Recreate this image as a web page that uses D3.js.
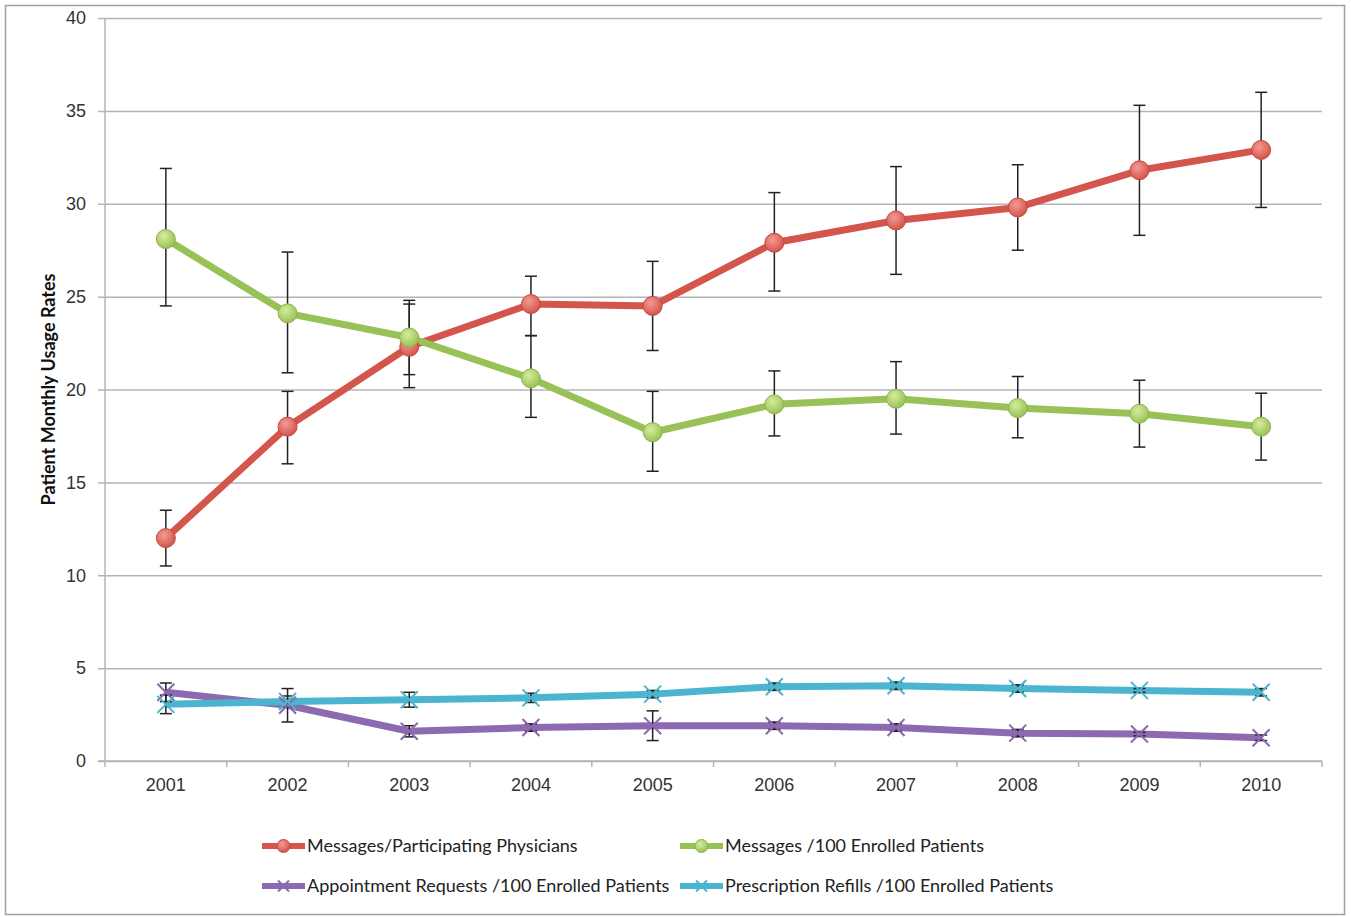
<!DOCTYPE html>
<html>
<head>
<meta charset="utf-8">
<script src="https://cdn.jsdelivr.net/npm/d3@7"></script>
<style>
  body { margin: 0; background: #fff; }
  svg { display: block; font-family: Lato, "Open Sans", sans-serif; }
</style>
</head>
<body>
<svg id="chart" width="1351" height="917"></svg>
<script>
// data
const years = ["2001", "2002", "2003", "2004", "2005", "2006", "2007", "2008", "2009", "2010"];

const physicians = [12.0, 18.0, 22.3, 24.6, 24.5, 27.9, 29.1, 29.8, 31.8, 32.9];
const physiciansLow = [10.5, 16.0, 20.1, 22.9, 22.1, 25.3, 26.2, 27.5, 28.3, 29.8];
const physiciansHigh = [13.5, 19.9, 24.6, 26.1, 26.9, 30.6, 32.0, 32.1, 35.3, 36.0];

const patients = [28.1, 24.1, 22.8, 20.6, 17.7, 19.2, 19.5, 19.0, 18.7, 18.0];
const patientsLow = [24.5, 20.9, 20.8, 18.5, 15.6, 17.5, 17.6, 17.4, 16.9, 16.2];
const patientsHigh = [31.9, 27.4, 24.8, 22.9, 19.9, 21.0, 21.5, 20.7, 20.5, 19.8];

const appointments = [3.7, 3.0, 1.6, 1.8, 1.9, 1.9, 1.8, 1.5, 1.45, 1.25];
const appointmentsErr = [0.5, 0.9, 0.3, 0.2, 0.8, 0.2, 0.2, 0.2, 0.1, 0.15];

const refills = [3.05, 3.2, 3.3, 3.4, 3.6, 4.0, 4.05, 3.9, 3.8, 3.7];
const refillsErr = [0.5, 0.3, 0.4, 0.25, 0.2, 0.2, 0.2, 0.2, 0.1, 0.2];

const yTicks = [0, 5, 10, 15, 20, 25, 30, 35, 40];

const series = [
  { name: "Messages/Participating Physicians", values: physicians, low: physiciansLow, high: physiciansHigh,
    color: "#d3554c", light: "#f49a93", dark: "#c24a42", marker: "circle" },
  { name: "Messages /100 Enrolled Patients", values: patients, low: patientsLow, high: patientsHigh,
    color: "#98c257", light: "#d6ec9c", dark: "#8db44c", marker: "circle" },
  { name: "Appointment Requests /100 Enrolled Patients", values: appointments,
    low: appointments.map((v, i) => v - appointmentsErr[i]), high: appointments.map((v, i) => v + appointmentsErr[i]),
    color: "#8d69b0", marker: "x" },
  { name: "Prescription Refills /100 Enrolled Patients", values: refills,
    low: refills.map((v, i) => v - refillsErr[i]), high: refills.map((v, i) => v + refillsErr[i]),
    color: "#4bb5d0", marker: "x" }
];

const svg = d3.select("#chart");
const plotLeft = 105, plotRight = 1322, plotTop = 18, plotBottom = 761;

// outer frame
svg.append("rect")
  .attr("x", 5.5).attr("y", 5.5)
  .attr("width", 1339).attr("height", 909)
  .attr("fill", "#fff")
  .attr("stroke", "#a0a0a0")
  .attr("stroke-width", 1.5);

const x = d3.scaleBand().domain(years).range([plotLeft, plotRight]);
const cx = d => x(d) + x.bandwidth() / 2;
const y = d3.scaleLinear().domain([0, 40]).range([plotBottom, plotTop]);

// gridlines + y axis
const yAxis = svg.append("g")
  .attr("transform", `translate(${plotLeft},0)`)
  .call(d3.axisLeft(y).tickValues(yTicks).tickSize(-(plotRight - plotLeft)).tickPadding(19));
yAxis.select(".domain").remove();
yAxis.selectAll(".tick line")
  .attr("x1", -7)
  .attr("stroke", "#b4b4b4")
  .attr("stroke-width", 1.5);
yAxis.selectAll(".tick text")
  .attr("font-size", 18)
  .attr("fill", "#333");

svg.append("line")
  .attr("x1", plotLeft).attr("x2", plotLeft)
  .attr("y1", plotTop).attr("y2", plotBottom)
  .attr("stroke", "#b4b4b4").attr("stroke-width", 1.5);

// x axis
const xAxis = svg.append("g")
  .attr("transform", `translate(0,${plotBottom})`)
  .call(d3.axisBottom(x).tickSize(0).tickPadding(17));
xAxis.select(".domain")
  .attr("d", `M${plotLeft - 7},0H${plotRight}`)
  .attr("stroke", "#b4b4b4").attr("stroke-width", 1.5);
xAxis.selectAll(".tick text")
  .attr("font-size", 18)
  .attr("fill", "#333");
xAxis.selectAll(".boundary")
  .data(years.concat(["end"]))
  .join("line")
  .attr("class", "boundary")
  .attr("x1", (d, i) => plotLeft + i * x.bandwidth())
  .attr("x2", (d, i) => plotLeft + i * x.bandwidth())
  .attr("y1", 0).attr("y2", 6)
  .attr("stroke", "#b4b4b4").attr("stroke-width", 1.5);

// y axis title
svg.append("text")
  .attr("transform", `translate(55,${(plotTop + plotBottom) / 2}) rotate(-90)`)
  .attr("text-anchor", "middle")
  .attr("font-size", 18)
  .attr("font-weight", "bold")
  .attr("fill", "#111")
  .text("Patient Monthly Usage Rates");

// gradients for round markers
const defs = svg.append("defs");
series.filter(s => s.marker === "circle").forEach((s, k) => {
  const gr = defs.append("radialGradient")
    .attr("id", "grad" + k)
    .attr("cx", "40%").attr("cy", "35%").attr("r", "65%");
  gr.append("stop").attr("offset", "0%").attr("stop-color", s.light);
  gr.append("stop").attr("offset", "100%").attr("stop-color", s.color);
  s.grad = "url(#grad" + k + ")";
});

const line = d3.line().x(d => cx(d.year)).y(d => y(d.v));

// lines
series.forEach(s => {
  svg.append("path")
    .datum(years.map((yr, i) => ({ year: yr, v: s.values[i] })))
    .attr("fill", "none")
    .attr("stroke", s.color)
    .attr("stroke-width", 7)
    .attr("stroke-linejoin", "round")
    .attr("d", line);
});

// error bars
series.forEach(s => {
  const g = svg.append("g").attr("stroke", "#222").attr("stroke-width", 1.5);
  years.forEach((yr, i) => {
    const px = cx(yr);
    g.append("line").attr("x1", px).attr("x2", px).attr("y1", y(s.low[i])).attr("y2", y(s.high[i]));
    g.append("line").attr("x1", px - 6).attr("x2", px + 6).attr("y1", y(s.low[i])).attr("y2", y(s.low[i]));
    g.append("line").attr("x1", px - 6).attr("x2", px + 6).attr("y1", y(s.high[i])).attr("y2", y(s.high[i]));
  });
});

// markers
function drawMarker(g, s, px, py, size) {
  if (s.marker === "circle") {
    g.append("circle")
      .attr("cx", px).attr("cy", py).attr("r", size)
      .attr("fill", s.grad)
      .attr("stroke", s.dark)
      .attr("stroke-width", 1);
  } else {
    g.append("path")
      .attr("d", `M${px - size},${py - size}L${px + size},${py + size}M${px - size},${py + size}L${px + size},${py - size}`)
      .attr("stroke", s.color)
      .attr("stroke-width", 2)
      .attr("fill", "none");
  }
}

series.forEach(s => {
  const g = svg.append("g");
  years.forEach((yr, i) => drawMarker(g, s, cx(yr), y(s.values[i]), s.marker === "circle" ? 9.5 : 8.5));
});

// legend
const legendPos = [[262, 846], [680, 846], [262, 886], [680, 886]];
series.forEach((s, i) => {
  const [lx, ly] = legendPos[i];
  const g = svg.append("g");
  g.append("line")
    .attr("x1", lx).attr("x2", lx + 43)
    .attr("y1", ly).attr("y2", ly)
    .attr("stroke", s.color).attr("stroke-width", 6);
  drawMarker(g, s, lx + 21.5, ly, s.marker === "circle" ? 6.5 : 5.5);
  g.append("text")
    .attr("x", lx + 45).attr("y", ly)
    .attr("dy", "0.35em")
    .attr("font-size", 18)
    .attr("fill", "#222")
    .text(s.name);
});
</script>
</body>
</html>
